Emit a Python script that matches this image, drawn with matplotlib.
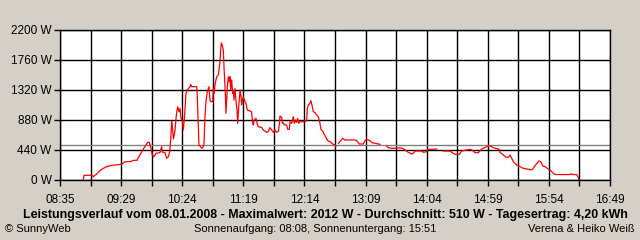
import numpy as np
import matplotlib
matplotlib.use("Agg")
import matplotlib.pyplot as plt

# minutes after 08:35
minutes = [20.9, 21.6, 29.0, 29.9, 33.0, 35.9, 38.9, 41.9, 46.4, 52.4, 55.4, 57.8, 64.4, 65.8, 68.9,
           71.0, 73.4, 76.3, 78.8, 80.2, 81.7, 82.9, 84.4, 86.2, 89.8, 91.3, 91.9, 94.3, 95.8, 97.3,
           98.5, 99.4, 100.3, 101.0, 101.9, 103.3, 104.5, 105.7, 106.9, 107.8, 108.7, 109.8, 110.7,
           111.6, 113.2, 114.3, 116.8, 117.4, 118.3, 122.8, 123.3, 124.2, 124.8, 125.7, 127.3, 128.4,
           129.3, 130.2, 131.1, 132.3, 133.8, 134.7, 135.4, 137.2, 137.7, 138.6, 139.2, 140.7, 142.2,
           143.1, 143.7, 144.3, 144.9, 146.1, 146.7, 147.3, 147.9, 148.5, 149.1, 149.7, 150.3, 151.2,
           152.1, 152.7, 153.3, 154.2, 155.1, 155.7, 156.3, 157.2, 158.1, 159.0, 159.6, 160.5, 161.7,
           162.6, 163.2, 164.6, 166.2, 167.1, 168.2, 170.7, 172.0, 173.1, 173.6, 174.5, 176.0, 176.7,
           178.1, 181.2, 182.6, 185.7, 187.1, 188.6, 190.1, 191.6, 193.1, 194.6, 196.1, 197.0, 197.6,
           199.1, 199.7, 200.6, 201.5, 203.6, 204.5, 206.0, 206.6, 208.1, 209.5, 210.4, 211.7, 212.6,
           213.5, 214.4, 215.6, 218.5, 219.4, 221.6, 222.1, 223.0, 224.5, 225.4, 226.3, 227.5, 229.0,
           230.6, 232.0, 233.5, 234.4, 236.0, 237.1, 238.9, 240.4, 242.5, 244.9, 247.0, 247.9, 249.0,
           250.0, 252.1, 253.9, 256.0, 265.0, 266.5, 268.8, 272.4, 273.9, 275.5, 278.4, 280.0, 287.4,
           290.1, 293.4, 294.9, 297.9, 302.4, 303.9, 306.9, 309.9, 312.8, 315.9, 317.3, 318.9, 324.9,
           326.3, 329.4, 330.3, 333.8, 338.4, 341.3, 344.3, 350.3, 351.8, 354.8, 358.6, 360.8, 368.3,
           370.0, 372.8, 375.7, 378.8, 381.1, 383.8, 386.2, 389.2, 392.2, 394.6, 395.2, 396.6, 398.2,
           400.6, 402.7, 404.2, 405.7, 407.2, 410.2, 413.2, 416.1, 420.6, 423.7, 425.1, 428.2, 430.2,
           432.0, 433.6, 435.6, 437.7, 440.1, 442.5, 444.6, 458.1, 458.7, 461.0, 464.1, 465.5, 466.2]

watts = [0, 69, 69, 48, 88, 137, 171, 196, 215, 225, 230, 264, 274, 288, 288,
         342, 415, 489, 553, 553, 465, 367, 342, 391, 401, 489, 410, 400, 318, 340,
         415, 587, 860, 760, 600, 730, 953, 1075, 1000, 1050, 900, 880, 735,
         880, 1271, 1320, 1369, 1403, 1369, 1369, 1222, 807, 513, 499, 465, 480,
         523, 929, 1149, 1295, 1369, 1173, 1149, 1149, 1344, 1271, 1393, 1515, 1540,
         1662, 1735, 1907, 2012, 1955, 1907, 1662, 1467, 1271, 978, 1173, 1369, 1515,
         1440, 1515, 1320, 1467, 1271, 1320, 1173, 1340, 1149, 1027, 831, 1075, 1320,
         1222, 1100, 1222, 1149, 1120, 1027, 1012, 1002, 831, 807, 880, 905, 845,
         782, 770, 733, 699, 710, 768, 733, 699, 733, 699, 710, 807, 939,
         920, 831, 840, 807, 807, 743, 743, 855, 831, 929, 831, 880, 845,
         905, 831, 855, 855, 865, 865, 1051, 1100, 1124, 1163, 1100, 1002, 990,
         953, 930, 831, 743, 720, 675, 626, 577, 562, 528, 513, 499, np.nan,
         538, 577, 611, 587, 587, 577, 528, 528, 577, 597, 577, 548, 523,
         np.nan, 499, 474, 465, 465, 470, 470, 440, 406, 381, 391, 425, 425,
         406, 415, 450, 450, 455, np.nan, 425, 425, 406, 376, 376, 425, 450,
         440, 401, 401, 455, 474, 489, 504, 474, 460, 450, 401, 391, 367,
         333, 333, 367, 320, 269, 220, 196, 171, 156, 147, 171, 244, 279,
         264, 205, 196, 171, 147, 108, 80, 80, 90, 80, 80, 39, 0]

average_w = 510
x_labels = ["08:35", "09:29", "10:24", "11:19", "12:14", "13:09", "14:04", "14:59", "15:54", "16:49"]
y_ticks = [0, 440, 880, 1320, 1760, 2200]
title = "Leistungsverlauf vom 08.01.2008 - Maximalwert: 2012 W - Durchschnitt: 510 W - Tagesertrag: 4,20 kWh"
footer_left = "© SunnyWeb"
footer_mid = "Sonnenaufgang: 08:08, Sonnenuntergang: 15:51"
footer_right = "Verena & Heiko Weiß"

total = 494.0
bg = "#d4d0c8"

fig = plt.figure(figsize=(6.4, 2.4), dpi=100, facecolor=bg)
ax = fig.add_axes([60/640, 1-180/240, 550/640, 150/240])
ax.set_facecolor("white")
ax.set_xlim(0, total)
ax.set_ylim(0, 2200)

major = np.linspace(0, total, 10)
minor = np.linspace(0, total, 19)
ax.set_xticks(major)
ax.set_xticklabels(x_labels)
ax.set_xticks(minor, minor=True)
ax.set_yticks(y_ticks)
ax.set_yticklabels([f"{v} W" for v in y_ticks])

for v in minor:
    ax.axvline(v, color="black", lw=1.0, zorder=1)
for v in y_ticks:
    ax.axhline(v, color="black", lw=1.0, zorder=1)
ax.axhline(average_w, color="#808080", lw=1.0, zorder=2)

ax.plot(minutes, watts, color="red", lw=0.9, zorder=3)

for s in ax.spines.values():
    s.set_color("black")
    s.set_linewidth(1.0)

ax.tick_params(axis="both", which="both", length=4, width=1.0, color="black", direction="out")
ax.tick_params(axis="x", which="major", pad=6)
ax.tick_params(axis="y", pad=2)
for lab in ax.get_xticklabels() + ax.get_yticklabels():
    lab.set_fontfamily("Liberation Sans")
    lab.set_fontsize(8.5)

fig.text(325/640, 1-215/240, title, ha="center", va="center", fontsize=8.9,
         fontweight="bold", family="Liberation Sans")
fig.text(5/640, 1-229/240, footer_left, ha="left", va="center", fontsize=8, family="Liberation Sans")
fig.text(315/640, 1-229/240, footer_mid, ha="center", va="center", fontsize=8, family="Liberation Sans")
fig.text(635/640, 1-229/240, footer_right, ha="right", va="center", fontsize=8, family="Liberation Sans")

fig.savefig("out.png", dpi=100, facecolor=bg)
